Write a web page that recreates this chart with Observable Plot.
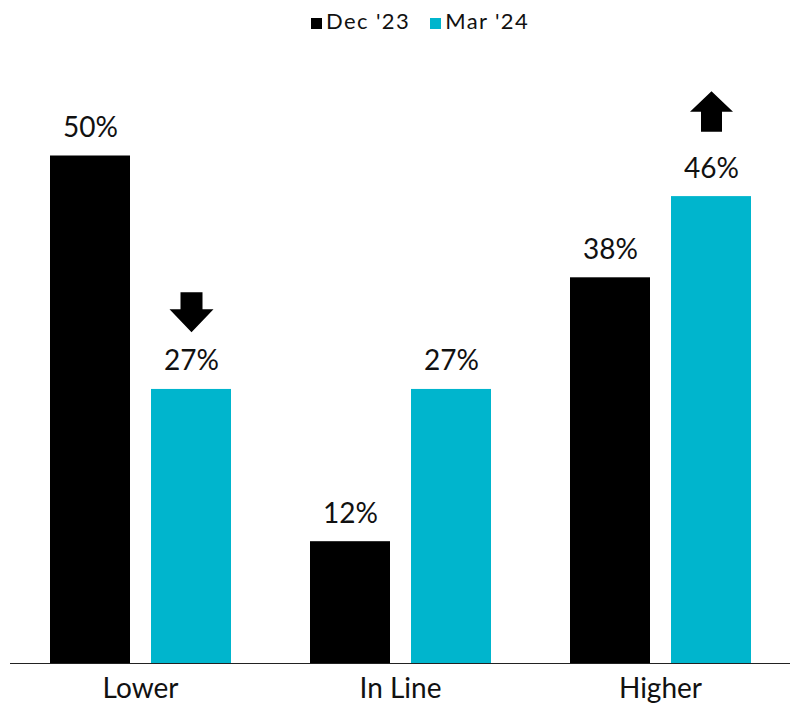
<!DOCTYPE html>
<html>
<head>
<meta charset="utf-8">
<script src="https://cdn.jsdelivr.net/npm/d3@7"></script>
<script src="https://cdn.jsdelivr.net/npm/@observablehq/plot@0.6"></script>
<style>
  html, body { margin: 0; padding: 0; background: #fff; }
  body { width: 790px; font-family: Lato, "Noto Sans", sans-serif; }
  #legend { height: 45px; box-sizing: border-box; padding-top: 8px; padding-left: 311px; display: flex; align-items: baseline; font-size: 22px; line-height: 1.2; color: #111; letter-spacing: 1.4px; }
  #legend .item { display: flex; align-items: baseline; margin-right: 20px; }
  #legend .sw { display: inline-block; width: 11px; height: 11px; margin-right: 4px; }
</style>
</head>
<body>
<div id="legend"></div>
<div id="chart"></div>
<script>
const categories = ["Lower", "In Line", "Higher"];
const seriesNames = ["Dec '23", "Mar '24"];
const dec23 = [50, 12, 38];
const mar24 = [27, 27, 46];
const seriesColors = ["#000000", "#00b5cd"];
const arrowGroups = ["Lower", "Higher"];
const arrowDirs = ["down", "up"];
const arrowLevels = [34.6, 54.4];

const data = categories.flatMap((c, i) => [
  {group: c, series: seriesNames[0], value: dec23[i]},
  {group: c, series: seriesNames[1], value: mar24[i]}
]);
const arrows = arrowGroups.map((g, i) => ({group: g, series: seriesNames[1], dir: arrowDirs[i], value: arrowLevels[i]}));

const downArrow = {
  draw(ctx) {
    ctx.moveTo(-11, -20); ctx.lineTo(11, -20); ctx.lineTo(11, -3);
    ctx.lineTo(22, -3); ctx.lineTo(0, 20); ctx.lineTo(-22, -3);
    ctx.lineTo(-11, -3); ctx.closePath();
  }
};
const upArrow = {
  draw(ctx) {
    ctx.moveTo(0, -20); ctx.lineTo(21.5, 0.5); ctx.lineTo(10.5, 0.5);
    ctx.lineTo(10.5, 20.5); ctx.lineTo(-10.5, 20.5); ctx.lineTo(-10.5, 0.5);
    ctx.lineTo(-21.5, 0.5); ctx.closePath();
  }
};

// legend
const legend = d3.select("#legend");
seriesNames.forEach((s, i) => {
  const it = legend.append("div").attr("class", "item");
  it.append("span").attr("class", "sw").style("background", seriesColors[i]);
  it.append("span").text(s);
});

const chart = Plot.plot({
  width: 790,
  height: 659,
  marginTop: 9,
  marginBottom: 41,
  marginLeft: 10,
  marginRight: 0,
  style: {fontFamily: "Lato, 'Noto Sans', sans-serif", color: "#111", background: "#fff"},
  fx: {domain: categories, padding: 0, label: null},
  x: {domain: seriesNames, paddingInner: 0.21, paddingOuter: 0.39, axis: null},
  y: {domain: [0, 60], axis: null},
  color: {domain: seriesNames, range: seriesColors},
  marks: [
    Plot.barY(data, {fx: "group", x: "series", y: "value", fill: "series"}),
    Plot.ruleY([0], {stroke: "#222", strokeWidth: 1.2}),
    Plot.text(data, {fx: "group", x: "series", y: "value", text: d => d.value + "%", lineAnchor: "bottom", dy: -19, fontSize: 28, fill: "#111"}),
    Plot.dot(arrows.filter(d => d.dir === "down"), {fx: "group", x: "series", y: "value", symbol: downArrow, r: 10, fill: "#000", stroke: "none"}),
    Plot.dot(arrows.filter(d => d.dir === "up"), {fx: "group", x: "series", y: "value", symbol: upArrow, r: 10, fill: "#000", stroke: "none"}),
    Plot.axisFx({tickSize: 0, tickPadding: 15, fontSize: 28, label: null, anchor: "bottom", style: {letterSpacing: "0.8px"}})
  ]
});
document.getElementById("chart").appendChild(chart);
</script>
</body>
</html>
